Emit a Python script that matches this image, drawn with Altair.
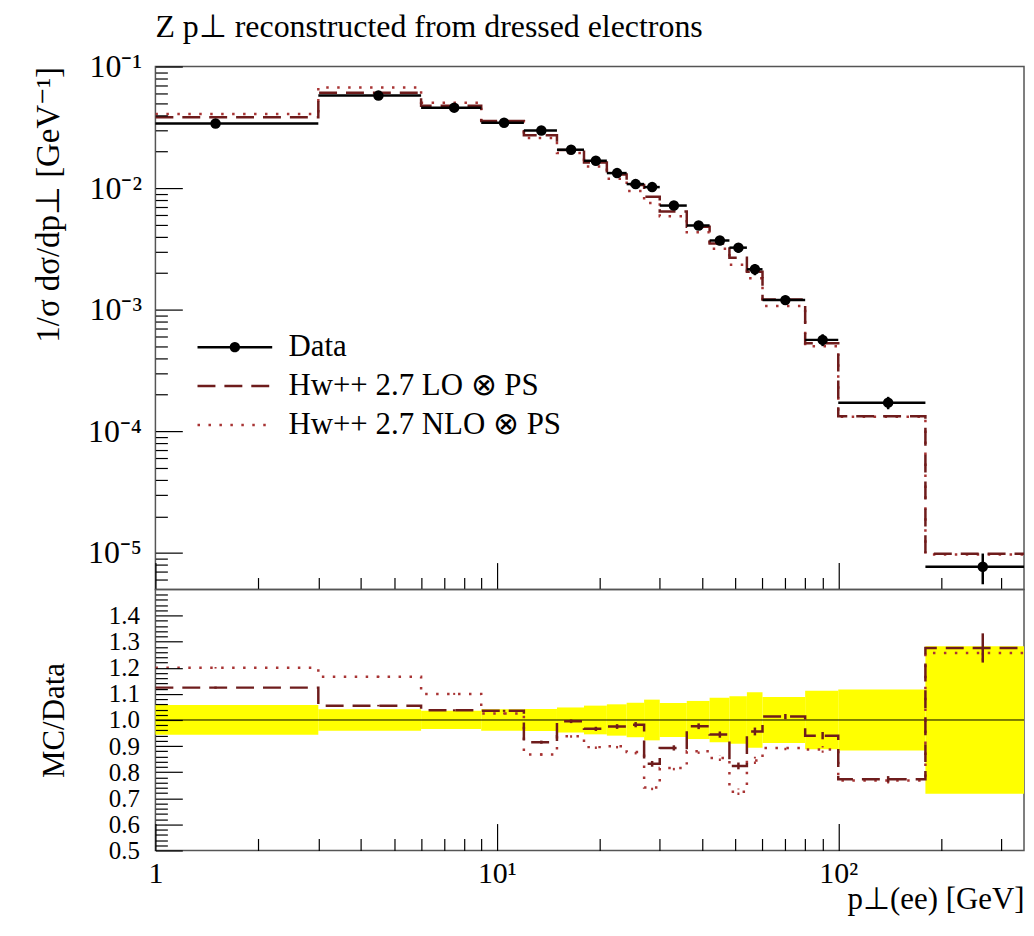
import altair as alt
import pandas as pd

FONT = "Liberation Serif"

# ---------------- data ----------------
bin_lo = [0, 3, 6, 9, 12, 15, 18, 21, 24, 27, 30, 36, 42, 48, 54, 60, 80, 100, 180]
bin_hi = [3, 6, 9, 12, 15, 18, 21, 24, 27, 30, 36, 42, 48, 54, 60, 80, 100, 180, 350]

data_val = [0.0340, 0.0577, 0.0459, 0.0345, 0.0298, 0.0207, 0.0168, 0.0133, 0.0108,
            0.0102, 0.00719, 0.00493, 0.00371, 0.00324, 0.00215, 0.00120, 0.000565,
            0.000172, 0.0000077]
data_rel_err = [0.057, 0.041, 0.035, 0.041, 0.042, 0.048, 0.055, 0.060, 0.066, 0.078,
                0.065, 0.073, 0.085, 0.091, 0.106, 0.088, 0.112, 0.117, 0.283]

lo_mc = [0.03822, 0.06087, 0.04760, 0.03571, 0.02727, 0.02060, 0.01623, 0.01297,
         0.01061, 0.008486, 0.006421, 0.004812, 0.003502, 0.002670, 0.002055,
         0.001216, 0.000531, 0.000133, 0.00000983]
nlo_mc = [0.0408, 0.06728, 0.05049, 0.03536, 0.02587, 0.01942, 0.01505, 0.01196,
          0.009472, 0.007558, 0.005867, 0.004338, 0.003168, 0.002349, 0.001817,
          0.001072, 0.000501, 0.000132, 0.00000968]

lo_ratio = [1.124, 1.055, 1.037, 1.035, 0.915, 0.995, 0.966, 0.975, 0.982, 0.832,
            0.893, 0.976, 0.944, 0.824, 0.956, 1.013, 0.940, 0.773, 1.276]
nlo_ratio = [1.200, 1.166, 1.100, 1.025, 0.868, 0.938, 0.896, 0.899, 0.877, 0.741,
             0.816, 0.880, 0.854, 0.725, 0.845, 0.893, 0.887, 0.768, 1.257]
lo_ratio_err = [0.004, 0.003, 0.004, 0.004, 0.006, 0.007, 0.008, 0.009, 0.010, 0.011,
                0.010, 0.011, 0.012, 0.013, 0.015, 0.010, 0.014, 0.012, 0.056]
nlo_ratio_err = [0.003, 0.003, 0.004, 0.004, 0.005, 0.006, 0.007, 0.008, 0.009, 0.010,
                 0.009, 0.010, 0.011, 0.012, 0.014, 0.009, 0.013, 0.011, 0.030]

series_names = ["Data", "Hw++ 2.7 LO ⊗ PS", "Hw++ 2.7 NLO ⊗ PS"]

title_text = "Z p⊥ reconstructed from dressed electrons"
y_title_top = "1/σ dσ/dp⊥  [GeV⁻¹]"
y_title_bot = "MC/Data"
x_title = "p⊥(ee) [GeV]"

x_major = [1, 10, 100]
x_minor = [2, 3, 4, 5, 6, 7, 8, 9, 20, 30, 40, 50, 60, 70, 80, 90, 200, 300]
y_major_top = [1e-5, 1e-4, 1e-3, 1e-2, 1e-1]
y_minor_top = [6e-6, 7e-6, 8e-6, 9e-6] + [k * 10.0 ** e for e in (-5, -4, -3, -2) for k in range(2, 10)]
r_major = [0.5, 0.6, 0.7, 0.8, 0.9, 1.0, 1.1, 1.2, 1.3, 1.4]
r_minor = [round(0.5 + 0.02 * i, 2) for i in range(51) if i % 5 != 0]

X_DOM = [1, 350]
Y_DOM = [5e-6, 0.1]
R_DOM = [0.5, 1.5]

W, H_TOP, H_BOT = 872, 525, 262
DARK = "#6e1c1c"
LIGHT = "#a83434"

# ---------------- tables ----------------
bins = pd.DataFrame({
    "lo": bin_lo, "hi": bin_hi, "data": data_val, "err": data_rel_err,
    "r_lo": lo_ratio, "r_nlo": nlo_ratio, "e_lo": lo_ratio_err, "e_nlo": nlo_ratio_err,
})
bins["x0"] = bins["lo"].clip(lower=X_DOM[0])
bins["mid"] = (bins["lo"] + bins["hi"]) / 2
bins["d_lo"] = bins["data"] * (1 - bins["err"])
bins["d_hi"] = bins["data"] * (1 + bins["err"])
bins["b_lo"] = 1 - bins["err"]
bins["b_hi"] = 1 + bins["err"]
bins["rl_lo"] = bins["r_lo"] - bins["e_lo"]
bins["rl_hi"] = bins["r_lo"] + bins["e_lo"]
bins["rn_lo"] = bins["r_nlo"] - bins["e_nlo"]
bins["rn_hi"] = bins["r_nlo"] + bins["e_nlo"]

step = pd.DataFrame({
    "x": list(bins["x0"]) + [bin_hi[-1]],
    "lo_mc": lo_mc + [lo_mc[-1]],
    "nlo_mc": nlo_mc + [nlo_mc[-1]],
    "lo_ratio": lo_ratio + [lo_ratio[-1]],
    "nlo_ratio": nlo_ratio + [nlo_ratio[-1]],
})
unity = pd.DataFrame({"one": [1.0]})
leg_df = pd.DataFrame({"series": series_names})

xs = alt.Scale(type="log", domain=X_DOM, nice=False)
ys = alt.Scale(type="log", domain=Y_DOM, nice=False)
rs = alt.Scale(domain=R_DOM, nice=False, zero=False)


def tick_axis(orient, values, major, **kw):
    size = 27 if major else 12
    base = dict(orient=orient, values=values, tickSize=size, offset=-size, domain=False,
                grid=False, ticks=True, tickColor="black", tickWidth=1.2, labels=False,
                labelFont=FONT, labelColor="black", labelOverlap=False, labelFlush=False,
                titleFont=FONT, titleColor="black", titleFontWeight="normal", zindex=2)
    base.update(kw)
    return alt.Axis(**base)


ax_x_top_major = tick_axis("bottom", x_major, True, title=None)
ax_x_minor = tick_axis("bottom", x_minor, False, title=None)
ax_y_top_major = tick_axis(
    "left", y_major_top, True, labels=True, labelFontSize=32, labelPadding=14,
    labelExpr="'10⁻' + ['⁰','¹','²','³','⁴','⁵','⁶'][round(-log(datum.value)/LN10)]",
    title=y_title_top, titleFontSize=33, titleAnchor="end", titleAlign="right",
    titleBaseline="alphabetic", titleAngle=-90, titleX=-124, titleY=0)
ax_y_top_minor = tick_axis("left", y_minor_top, False, title=None)

ax_x_bot_major = tick_axis(
    "bottom", x_major, True, labels=True, labelFontSize=30, labelPadding=8,
    labelExpr="datum.value == 1 ? '1' : (datum.value == 10 ? '10¹' : '10²')",
    title=x_title, titleFontSize=31, titleAnchor="end", titleBaseline="alphabetic",
    titleY=85)
ax_r_major = tick_axis(
    "left", r_major, True, labels=True, labelFontSize=25, labelPadding=16,
    labelExpr="format(datum.value, '.1f')",
    title=y_title_bot, titleFontSize=31, titleAnchor="middle", titleBaseline="alphabetic",
    titleAngle=-90, titleX=-119)
ax_r_minor = tick_axis("left", r_minor, False, title=None)

# ---------------- legend ----------------
P_LINE = "M-2,0L2,0"
P_DATA = ("M-2,0L2,0"
          "M-0.21,0A0.21,0.21,0,1,1,0.21,0A0.21,0.21,0,1,1,-0.21,0"
          "M-0.1,0A0.1,0.1,0,1,1,0.1,0A0.1,0.1,0,1,1,-0.1,0"
          "M-0.02,0A0.02,0.02,0,1,1,0.02,0A0.02,0.02,0,1,1,-0.02,0")
LEG = alt.Legend(title=None, orient="none", legendX=59.75, legendY=261.75,
                 labelFont=FONT, labelFontSize=31, labelColor="black", labelLimit=500,
                 symbolSize=1406, symbolStrokeWidth=2.5, labelOffset=33.75,
                 rowPadding=4, padding=0, symbolOpacity=1)

legend_layer = alt.Chart(leg_df).mark_point(opacity=0, filled=False, strokeWidth=2.5).encode(
    color=alt.Color("series:N", scale=alt.Scale(domain=series_names, range=["black", DARK, LIGHT]), legend=LEG),
    shape=alt.Shape("series:N", scale=alt.Scale(domain=series_names, range=[P_DATA, P_LINE, P_LINE]), legend=LEG),
    strokeDash=alt.StrokeDash("series:N", scale=alt.Scale(domain=series_names, range=[[1, 0], [18, 9], [2.5, 8.5]]), legend=LEG),
)

# ---------------- top panel ----------------
nlo_line = alt.Chart(step).mark_line(interpolate="step-after", color=LIGHT, strokeWidth=2.5,
                                     strokeDash=[2.5, 8.5], clip=True).encode(
    x=alt.X("x:Q", scale=xs, axis=ax_x_top_major),
    y=alt.Y("nlo_mc:Q", scale=ys, axis=ax_y_top_major),
)
lo_line = alt.Chart(step).mark_line(interpolate="step-after", color=DARK, strokeWidth=2.5,
                                    strokeDash=[18, 9], clip=True).encode(
    x=alt.X("x:Q", scale=xs, axis=ax_x_minor),
    y=alt.Y("lo_mc:Q", scale=ys, axis=ax_y_top_minor),
)
data_h = alt.Chart(bins).mark_rule(color="black", strokeWidth=2.5).encode(
    x=alt.X("x0:Q", scale=xs, axis=None), x2="hi:Q",
    y=alt.Y("data:Q", scale=ys, axis=None),
)
data_v = alt.Chart(bins).mark_rule(color="black", strokeWidth=2.5).encode(
    x=alt.X("mid:Q", scale=xs, axis=None),
    y=alt.Y("d_lo:Q", scale=ys, axis=None), y2="d_hi:Q",
)
data_pt = alt.Chart(bins).mark_circle(size=110, color="black", opacity=1).encode(
    x=alt.X("mid:Q", scale=xs, axis=None),
    y=alt.Y("data:Q", scale=ys, axis=None),
)

top = alt.layer(nlo_line, lo_line, data_h, data_v, data_pt, legend_layer).resolve_axis(
    x="independent", y="independent"
).properties(
    width=W, height=H_TOP,
    title=alt.TitleParams(title_text, anchor="start", frame="group", font=FONT, fontSize=32,
                          fontWeight="normal", color="black", offset=7),
)

# ---------------- ratio panel ----------------
band = alt.Chart(bins).mark_rect(color="#ffff00", opacity=1).encode(
    x=alt.X("x0:Q", scale=xs, axis=ax_x_bot_major), x2="hi:Q",
    y=alt.Y("b_lo:Q", scale=rs, axis=ax_r_major), y2="b_hi:Q",
)
unity_line = alt.Chart(unity).mark_rule(color="black", strokeWidth=1).encode(
    y=alt.Y("one:Q", scale=rs, axis=None),
)
nlo_r = alt.Chart(step).mark_line(interpolate="step-after", color=LIGHT, strokeWidth=2.5,
                                  strokeDash=[2.5, 8.5], clip=True).encode(
    x=alt.X("x:Q", scale=xs, axis=ax_x_minor),
    y=alt.Y("nlo_ratio:Q", scale=rs, axis=ax_r_minor),
)
lo_r = alt.Chart(step).mark_line(interpolate="step-after", color=DARK, strokeWidth=2.5,
                                 strokeDash=[18, 9], clip=True).encode(
    x=alt.X("x:Q", scale=xs, axis=None),
    y=alt.Y("lo_ratio:Q", scale=rs, axis=None),
)
nlo_err = alt.Chart(bins).mark_rule(color=LIGHT, strokeWidth=2, strokeDash=[2.5, 3]).encode(
    x=alt.X("mid:Q", scale=xs, axis=None),
    y=alt.Y("rn_lo:Q", scale=rs, axis=None), y2="rn_hi:Q",
)
lo_err = alt.Chart(bins).mark_rule(color=DARK, strokeWidth=2.5).encode(
    x=alt.X("mid:Q", scale=xs, axis=None),
    y=alt.Y("rl_lo:Q", scale=rs, axis=None), y2="rl_hi:Q",
)

bot = alt.layer(band, unity_line, nlo_r, lo_r, nlo_err, lo_err).resolve_axis(
    x="independent", y="independent"
).properties(width=W, height=H_BOT)

chart = alt.vconcat(top, bot, spacing=0, bounds="flush").properties(
    padding={"left": 24, "top": 0, "right": 0, "bottom": 0}
).configure_view(stroke="#555555", strokeWidth=1.5)

chart.save("out.html", embed_options={"renderer": "svg", "actions": False})
